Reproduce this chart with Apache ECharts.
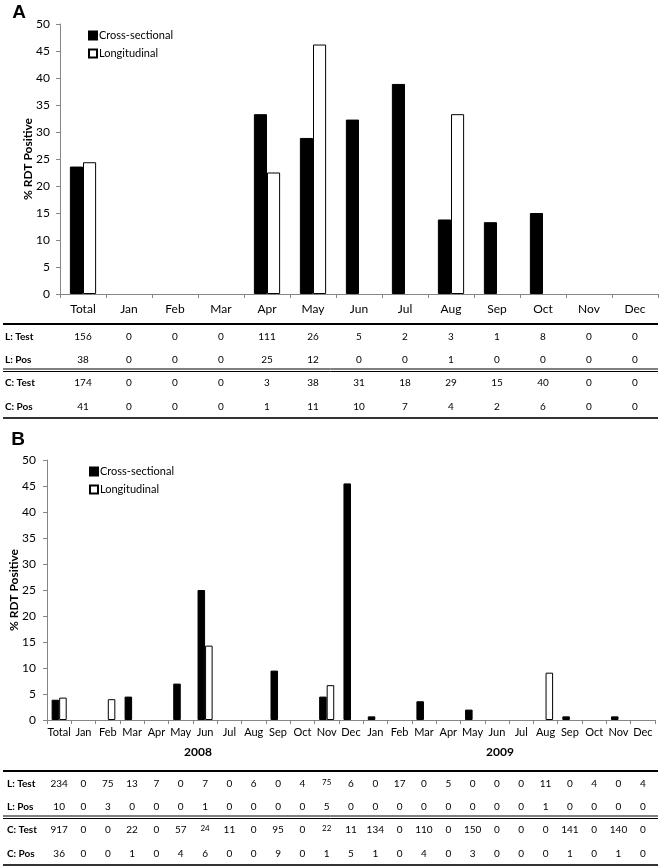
<!DOCTYPE html>
<html><head><meta charset="utf-8">
<script src="https://cdn.jsdelivr.net/npm/echarts@6/dist/echarts.min.js"></script>
<style>html,body{margin:0;padding:0;background:#fff}#c{width:661px;height:867px}</style>
</head><body><div id="c"></div>
<script>
// ---------- Panel A data ----------
const catsA = ['Total','Jan','Feb','Mar','Apr','May','Jun','Jul','Aug','Sep','Oct','Nov','Dec'];
const crossA = [23.6, null, null, null, 33.3, 28.9, 32.3, 38.9, 13.8, 13.3, 15.0, null, null];
const longA  = [24.4, null, null, null, 22.5, 46.2, 0, 0, 33.3, 0, 0, null, null];
const aLTest = [156,0,0,0,111,26,5,2,3,1,8,0,0];
const aLPos  = [38,0,0,0,25,12,0,0,1,0,0,0,0];
const aCTest = [174,0,0,0,3,38,31,18,29,15,40,0,0];
const aCPos  = [41,0,0,0,1,11,10,7,4,2,6,0,0];

// ---------- Panel B data ----------
const monthsB = ['Total','Jan','Feb','Mar','Apr','May','Jun','Jul','Aug','Sep','Oct','Nov','Dec',
                 'Jan','Feb','Mar','Apr','May','Jun','Jul','Aug','Sep','Oct','Nov','Dec'];
const yearLabels = ['2008','2009'];
const crossB = [3.9, null, null, 4.5, null, 7.0, 25.0, 0, null, 9.5, null, 4.5, 45.5,
                0.7, null, 3.6, null, 2.0, null, null, null, 0.7, null, 0.7, null];
const longB  = [4.3, null, 4.0, 0, 0, null, 14.3, null, 0, null, 0, 6.7, 0,
                null, 0, null, 0, null, null, null, 9.1, null, 0, null, 0];
const bLTest = [234,0,75,13,7,0,7,0,6,0,4,75,6, 0,17,0,5,0,0,0,11,0,4,0,4];
const bLPos  = [10,0,3,0,0,0,1,0,0,0,0,5,0, 0,0,0,0,0,0,0,1,0,0,0,0];
const bCTest = [917,0,0,22,0,57,24,11,0,95,0,22,11, 134,0,110,0,150,0,0,0,141,0,140,0];
const bCPos  = [36,0,0,1,0,4,6,0,0,9,0,1,5, 1,0,4,0,3,0,0,0,1,0,1,0];

const rowLabels = ['L: Test','L: Pos','C: Test','C: Pos'];
const seriesNames = ['Cross-sectional','Longitudinal'];
const yAxisName = '% RDT Positive';
const panelLetters = ['A','B'];

// keys for panel B categories (unique), shown as month names
const keysB = monthsB.map((m, i) => i === 0 ? m : m + '|' + (i <= 12 ? yearLabels[0] : yearLabels[1]));

const FONT = 'Lato, "Noto Sans", sans-serif';
const AX = '#868686';

const chart = echarts.init(document.getElementById('c'), null, {renderer: 'canvas'});

function yAx(gi, nameGap, labelMargin, fs) {
  return {
    type: 'value', gridIndex: gi, min: 0, max: 50, interval: 5,
    name: yAxisName, nameLocation: 'middle', nameGap: nameGap, nameRotate: 90,
    nameMoveOverlap: false,
    nameTextStyle: {fontFamily: FONT, fontSize: 12, fontWeight: 'bold', color: '#000'},
    axisLine: {show: true, lineStyle: {color: AX, width: 1}},
    axisTick: {show: true, length: 4, lineStyle: {color: AX}},
    axisLabel: {fontFamily: FONT, fontSize: fs, color: '#000', margin: labelMargin},
    splitLine: {show: false}
  };
}
function xAx(gi, data, fs, margin, fmt) {
  return {
    type: 'category', gridIndex: gi, data: data,
    axisLine: {show: true, lineStyle: {color: AX, width: 1}},
    axisTick: {show: true, length: 4, lineStyle: {color: AX}},
    axisLabel: {fontFamily: FONT, fontSize: fs, color: '#000', margin: margin, interval: 0,
                formatter: fmt || (v => v)}
  };
}
const blackStyle = {color: '#000', borderColor: '#000', borderWidth: 1};
const whiteStyle = {color: '#fff', borderColor: '#000', borderWidth: 1};
// zero-height bars get no outline (nothing visible in the reference)
const bars = arr => arr.map(v => v === 0 ? {value: 0, itemStyle: {borderWidth: 0, opacity: 0}} : v);

const legendCommon = {
  orient: 'vertical', icon: 'rect', itemWidth: 8, itemHeight: 8, itemGap: 7,
  textStyle: {fontFamily: FONT, fontSize: 11, color: '#000', padding: [0, 0, 0, -3]},
  data: seriesNames, selectedMode: false
};

chart.setOption({
  animation: false,
  backgroundColor: '#fff',
  grid: [
    {left: 60, top: 24, width: 598, height: 270, containLabel: false},
    {left: 47, top: 460, width: 608, height: 260, containLabel: false}
  ],
  legend: [
    Object.assign({left: 83, top: 25}, legendCommon),
    Object.assign({left: 84, top: 461}, legendCommon)
  ],
  xAxis: [
    xAx(0, catsA, 12, 9),
    xAx(1, keysB, 11, 7, v => v.split('|')[0])
  ],
  yAxis: [
    yAx(0, 26, 10, 12),
    yAx(1, 27, 11, 12)
  ],
  series: [
    {name: seriesNames[0], type: 'bar', xAxisIndex: 0, yAxisIndex: 0, data: bars(crossA),
     itemStyle: blackStyle, barGap: '0%', barCategoryGap: '43%'},
    {name: seriesNames[1], type: 'bar', xAxisIndex: 0, yAxisIndex: 0, data: bars(longA),
     itemStyle: whiteStyle, barGap: '0%', barCategoryGap: '43%'},
    {name: seriesNames[0], type: 'bar', xAxisIndex: 1, yAxisIndex: 1, data: bars(crossB),
     itemStyle: blackStyle, barGap: '0%', barCategoryGap: '38%'},
    {name: seriesNames[1], type: 'bar', xAxisIndex: 1, yAxisIndex: 1, data: bars(longB),
     itemStyle: whiteStyle, barGap: '0%', barCategoryGap: '38%'}
  ]
});

// ---------- tables & annotations ----------
const graphics = [];
function txt(x, y, s, opts) {
  graphics.push({type: 'text', x: x, y: y, silent: true,
    style: Object.assign({text: String(s), fontFamily: FONT, fontSize: 10, fill: '#000',
      textAlign: 'center', textVerticalAlign: 'middle'}, opts || {})});
}
function hline(y, w, color) {
  graphics.push({type: 'line', silent: true,
    shape: {x1: 3, y1: y, x2: 658, y2: y},
    style: {stroke: color || '#000', lineWidth: w}});
}
function table(xIdx, rows, y0, labelX, smallCells) {
  const rowY = [y0 + 13, y0 + 36, y0 + 59, y0 + 83];
  hline(y0, 2);
  hline(y0 + 45, 1);
  hline(y0 + 47.5, 1);
  hline(y0 + 94, 2, '#333');
  rows.forEach((row, r) => {
    txt(labelX, rowY[r], rowLabels[r], {textAlign: 'left', fontWeight: 'bold'});
    row.forEach((v, i) => {
      const x = chart.convertToPixel({xAxisIndex: xIdx}, i);
      const small = smallCells.indexOf(r + ':' + i) >= 0;
      txt(x, small ? rowY[r] - 2 : rowY[r], v, small ? {fontSize: 8} : {});
    });
  });
}
table(0, [aLTest, aLPos, aCTest, aCPos], 324, 5, []);
table(1, [bLTest, bLPos, bCTest, bCPos], 771, 7, ['0:11', '2:6', '2:11']);

// year labels under panel B
txt(198, 752, yearLabels[0], {fontSize: 12, fontWeight: 'bold'});
txt(500, 752, yearLabels[1], {fontSize: 12, fontWeight: 'bold'});

// panel letters
txt(19, 13, panelLetters[0], {fontSize: 19, fontWeight: 'bold', fontFamily: '"Liberation Sans", Arial, sans-serif'});
txt(18, 440, panelLetters[1], {fontSize: 19, fontWeight: 'bold', fontFamily: '"Liberation Sans", Arial, sans-serif'});

chart.setOption({graphic: graphics});
</script>
</body></html>
